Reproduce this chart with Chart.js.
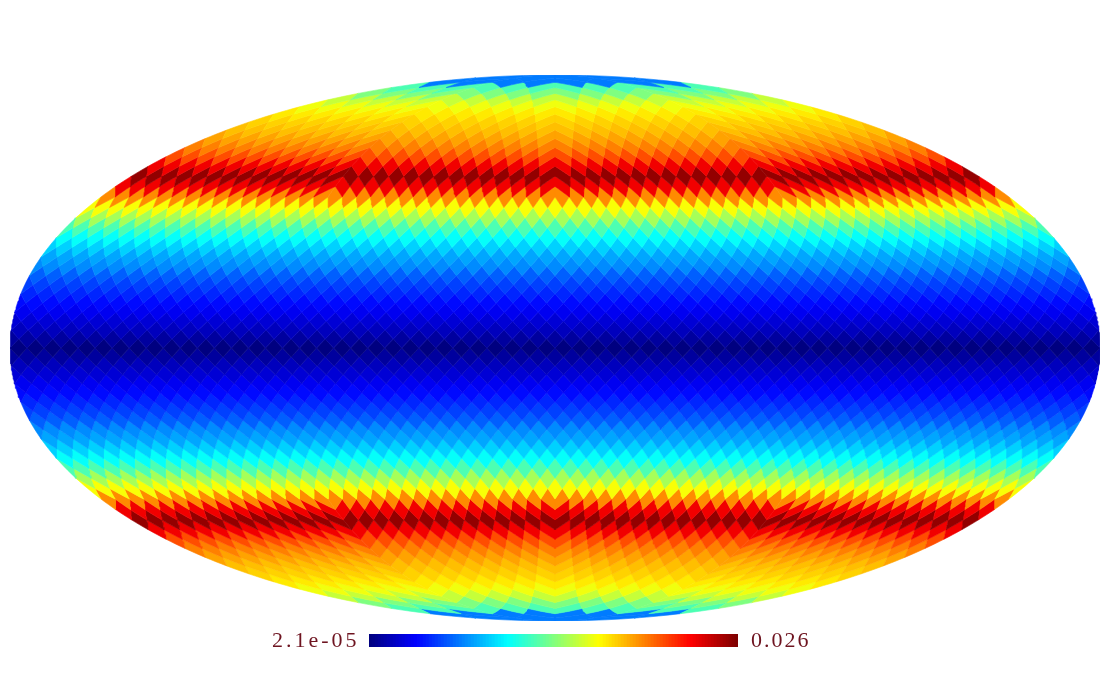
<!DOCTYPE html>
<html lang="en">
<head>
<meta charset="UTF-8">
<title>Mollweide map</title>
<script src="https://cdn.jsdelivr.net/npm/chart.js"></script>
<style>
    html, body { margin: 0; padding: 0; background: #fff; overflow: hidden; }
    #page { position: relative; width: 1114px; height: 697px; }
    #mapChart { position: absolute; left: 0; top: 0; }
    #barBox { position: absolute; left: 369px; top: 634px; width: 369px; height: 13px; }
    .barLabel { position: absolute; top: 627px; font: 22px "Liberation Serif", serif; color: #6e1420; line-height: 26px; }
</style>
</head>
<body>
<div id="page">
    <canvas id="mapChart" width="1114" height="697"></canvas>
    <div id="barBox"><canvas id="barChart" width="369" height="13"></canvas></div>
    <span class="barLabel" id="minLabel" style="left: 272px; letter-spacing: 3px;"></span>
    <span class="barLabel" id="maxLabel" style="left: 751px; letter-spacing: 2px;"></span>
</div>
<script>
    // colour scale limits and the labels printed next to the bar
    const valueMin = 2.1e-05;
    const valueMax = 0.026;
    const barLabels = ["2.1e-05", "0.026"];

    // one value per HEALPix ring (north pole to south pole, nside 16)
    const nside = 16;
    const ringValues = [
        0.0064, 0.0064, 0.0117, 0.0130, 0.0148, 0.0159, 0.0168, 0.0174,
        0.0179, 0.0186, 0.0195, 0.0208, 0.0231, 0.0255, 0.0231, 0.0192,
        0.0161, 0.0140, 0.0117, 0.0099, 0.0086, 0.0075, 0.0068, 0.0057,
        0.0049, 0.0042, 0.0035, 0.0029, 0.0022, 0.0016, 0.0008, 0.00002,
        0.0008, 0.0016, 0.0022, 0.0029, 0.0035, 0.0042, 0.0049, 0.0057,
        0.0068, 0.0075, 0.0086, 0.0099, 0.0117, 0.0140, 0.0161, 0.0192,
        0.0231, 0.0255, 0.0231, 0.0208, 0.0195, 0.0186, 0.0179, 0.0174,
        0.0168, 0.0159, 0.0148, 0.0130, 0.0117, 0.0064, 0.0064
    ];

    function jet(f) {
        f = Math.max(0, Math.min(1, f));
        const ch = t => Math.round(255 * Math.max(0, Math.min(1, 1.5 - Math.abs(4 * f - t))));
        return `rgb(${ch(3)},${ch(2)},${ch(1)})`;
    }

    function valueColor(v) {
        return jet((v - valueMin) / (valueMax - valueMin));
    }

    // HEALPix plane position -> longitude and z
    function planeToSphere(xs, ys) {
        const ya = Math.abs(ys);
        if (ya <= Math.PI / 4) {
            return { phi: xs, z: 8 * ys / (3 * Math.PI) };
        }
        const div = 2 - 4 * ya / Math.PI;
        const z = (1 - div * div / 3) * Math.sign(ys);
        const facet = (Math.floor((xs + Math.PI) / (Math.PI / 2)) + 0.5) * Math.PI / 2 - Math.PI;
        const phi = div < 1e-9 ? facet : facet + (xs - facet) / div;
        return { phi: phi, z: z };
    }

    function mollweide(phi, z) {
        let t = Math.asin(z);
        for (let i = 0; i < 40; i++) {
            const d = 1 + Math.cos(2 * t);
            if (d < 1e-8) break;
            t -= (2 * t + Math.sin(2 * t) - Math.PI * z) / (2 * d);
        }
        return {
            x: 2 * Math.SQRT2 / Math.PI * phi * Math.cos(t),
            y: Math.SQRT2 * Math.sin(t)
        };
    }

    // outline of a pixel in map coordinates
    function pixelOutline(xc, yc) {
        const d = Math.PI / (4 * nside);
        const corners = [[xc, yc + d], [xc + d, yc], [xc, yc - d], [xc - d, yc]];
        const pts = [];
        const steps = 4;
        for (let c = 0; c < 4; c++) {
            const a = corners[c], b = corners[(c + 1) % 4];
            for (let s = 0; s < steps; s++) {
                const xs = a[0] + (b[0] - a[0]) * s / steps;
                const ys = a[1] + (b[1] - a[1]) * s / steps;
                const p = planeToSphere(xs, ys);
                pts.push(mollweide(Math.max(-Math.PI, Math.min(Math.PI, p.phi)), p.z));
            }
        }
        pts.push(pts[0]);
        return pts;
    }

    function ringCentres(k) {
        const out = [];
        const step = Math.PI / (2 * nside);
        const cap = Math.min(k, 4 * nside - k);
        if (cap < nside) {
            for (let f = 0; f < 4; f++) {
                const facet = -Math.PI + (f + 0.5) * Math.PI / 2;
                for (let j = 0; j < cap; j++) {
                    out.push(facet + (j - (cap - 1) / 2) * step);
                }
            }
        } else {
            const offset = (k - nside) % 2 === 0 ? 0.5 : 0;
            for (let j = 0; j <= 4 * nside; j++) {
                const xc = -Math.PI + (j + offset) * step;
                if (xc <= Math.PI + 1e-9) out.push(xc);
            }
        }
        return out;
    }

    const mapDatasets = [];
    ringValues.forEach((value, i) => {
        const k = i + 1;
        const yc = Math.PI / 2 - k * Math.PI / (4 * nside);
        const color = valueColor(value);
        ringCentres(k).forEach(xc => {
            mapDatasets.push({
                data: pixelOutline(xc, yc),
                showLine: true,
                fill: "shape",
                backgroundColor: color,
                borderColor: color,
                borderWidth: 0.6,
                pointRadius: 0,
                tension: 0
            });
        });
    });

    new Chart(document.getElementById("mapChart").getContext("2d"), {
        type: "scatter",
        data: { datasets: mapDatasets },
        options: {
            responsive: false,
            animation: false,
            events: [],
            layout: { padding: { left: 10, right: 14, top: 75, bottom: 76 } },
            plugins: { legend: { display: false }, tooltip: { enabled: false } },
            scales: {
                x: { display: false, min: -2 * Math.SQRT2, max: 2 * Math.SQRT2 },
                y: { display: false, min: -Math.SQRT2, max: Math.SQRT2 }
            }
        }
    });

    // colour bar: one bar per colour step
    const barLevels = [];
    for (let i = 0; i < 123; i++) barLevels.push(valueMin + (valueMax - valueMin) * i / 122);

    new Chart(document.getElementById("barChart").getContext("2d"), {
        type: "bar",
        data: {
            labels: barLevels,
            datasets: [{
                data: barLevels.map(() => 1),
                backgroundColor: barLevels.map(valueColor),
                borderWidth: 0,
                barPercentage: 1,
                categoryPercentage: 1
            }]
        },
        options: {
            responsive: false,
            animation: false,
            events: [],
            plugins: { legend: { display: false }, tooltip: { enabled: false } },
            scales: {
                x: { display: false },
                y: { display: false, min: 0, max: 1 }
            }
        }
    });

    document.getElementById("minLabel").textContent = barLabels[0];
    document.getElementById("maxLabel").textContent = barLabels[1];
</script>
</body>
</html>
